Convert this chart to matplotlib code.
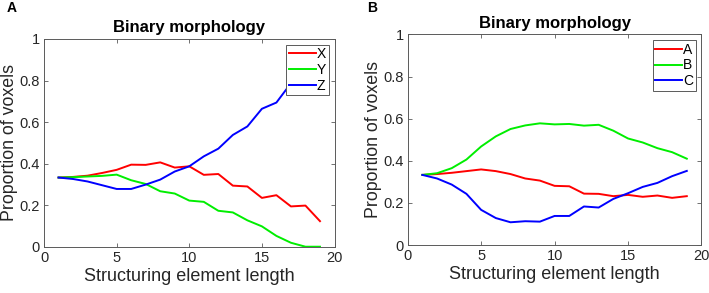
import numpy as np
import matplotlib
matplotlib.use('Agg')
from matplotlib import pyplot as plt

plt.rcParams['font.family'] = ['Liberation Sans', 'DejaVu Sans']

# structuring element length
lengths = list(range(1, 20))

# panel A
x_prop = [0.333, 0.336, 0.342, 0.355, 0.370, 0.395, 0.394, 0.406, 0.381, 0.387,
          0.346, 0.350, 0.294, 0.290, 0.235, 0.248, 0.194, 0.198, 0.123]
y_prop = [0.333, 0.335, 0.338, 0.341, 0.347, 0.320, 0.302, 0.267, 0.256, 0.222,
          0.216, 0.173, 0.165, 0.127, 0.098, 0.052, 0.019, 0.0, 0.0]
z_prop = [0.333, 0.326, 0.314, 0.296, 0.278, 0.278, 0.299, 0.323, 0.362, 0.387,
          0.435, 0.472, 0.538, 0.579, 0.664, 0.694, 0.787, 0.802, 0.877]

# panel B
a_prop = [0.333, 0.337, 0.343, 0.351, 0.359, 0.351, 0.337, 0.316, 0.306, 0.281,
          0.279, 0.244, 0.243, 0.232, 0.238, 0.229, 0.235, 0.224, 0.232]
b_prop = [0.333, 0.341, 0.365, 0.406, 0.468, 0.516, 0.551, 0.568, 0.578, 0.573,
          0.575, 0.567, 0.571, 0.543, 0.506, 0.487, 0.460, 0.441, 0.410]
c_prop = [0.333, 0.316, 0.287, 0.243, 0.167, 0.128, 0.108, 0.113, 0.111, 0.138,
          0.138, 0.183, 0.178, 0.219, 0.246, 0.276, 0.295, 0.327, 0.352]

panels = [
    ('A', [('X', x_prop), ('Y', y_prop), ('Z', z_prop)]),
    ('B', [('A', a_prop), ('B', b_prop), ('C', c_prop)]),
]
colors = ['#ff0000', '#00ee00', '#0000ff']
axcol = '#5a5a5a'
txtcol = '#262626'

fig = plt.figure(figsize=(7.09, 2.93), dpi=100)
rects = [[0.0621, 0.158, 0.4097, 0.7089], [0.575, 0.1638, 0.4144, 0.7185]]
tag_x = [0.010, 0.518]

for rect, tx, (tag, series) in zip(rects, tag_x, panels):
	ax = fig.add_axes(rect)
	for (name, vals), c in zip(series, colors):
		ax.plot(lengths, vals, color=c, lw=1.4, label=name)
	ax.set_xlim(0, 20)
	ax.set_ylim(0, 1)
	ax.set_xticks([0, 5, 10, 15, 20])
	ax.set_yticks([0, 0.2, 0.4, 0.6, 0.8, 1])
	ax.set_yticklabels(['0', '0.2', '0.4', '0.6', '0.8', '1'])
	ax.tick_params(direction='in', top=True, right=True, length=3, width=0.6,
		colors=axcol, labelcolor=txtcol, labelsize=10.5, pad=3)
	for s in ax.spines.values():
		s.set_color(axcol)
		s.set_linewidth(0.7)
	ax.set_xlabel('Structuring element length', fontsize=13, color=txtcol, labelpad=2)
	ax.set_ylabel('Proportion of voxels', fontsize=12.8, color=txtcol, labelpad=1)
	ax.set_title('Binary morphology', fontsize=12, fontweight='bold', pad=5)
	leg = ax.legend(loc='upper right', fontsize=10, fancybox=False, framealpha=1,
		handlelength=1.9, handletextpad=0.1, borderpad=0.2, labelspacing=0.12,
		borderaxespad=0.4)
	leg.get_frame().set_edgecolor(axcol)
	leg.get_frame().set_linewidth(0.7)
	fig.text(tx, 0.973, tag, fontsize=10, fontweight='bold', ha='left', va='center')

fig.savefig('out.png', dpi=100)
